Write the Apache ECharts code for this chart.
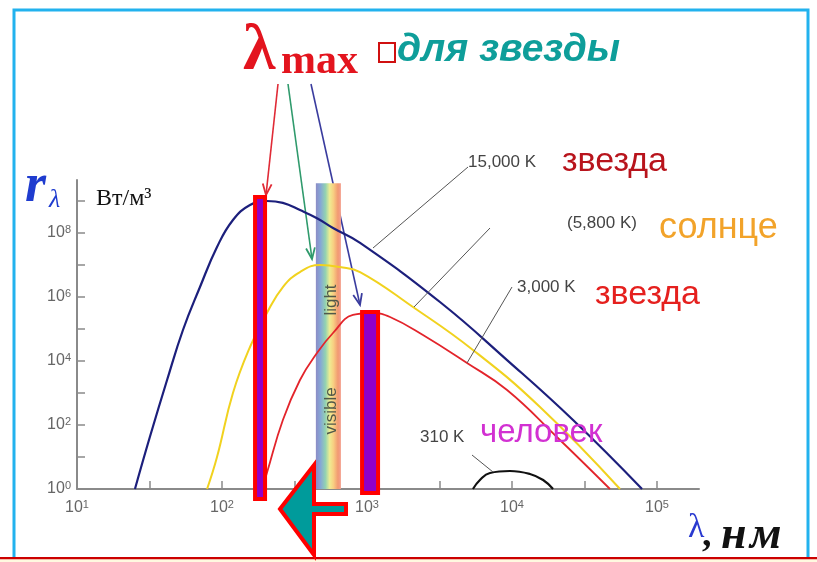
<!DOCTYPE html>
<html>
<head>
<meta charset="utf-8">
<script src="https://cdn.jsdelivr.net/npm/echarts@6/dist/echarts.min.js"></script>
<style>
  html, body { margin: 0; padding: 0; background: #fff; }
  #chart { width: 817px; height: 562px; }
</style>
</head>
<body>
<div id="chart"></div>
<script>
// Spectral emittance r(λ) of black bodies: [wavelength nm, r in W/m^3]
const star15000 = [[25.1, 1], [31.8, 42], [41.8, 2550], [53.8, 9.3e4], [70.5, 2.05e6], [92.4, 3.65e7],
  [119, 2.55e8], [156, 7.5e8], [204, 1.0e9], [263, 8.7e8], [345, 5.2e8], [452, 2.9e8], [583, 1.43e8],
  [896, 4.9e7], [3186, 6.98e5], [9247, 1.07e4], [26370, 143], [78880, 1]];
const sun5800 = [[78.9, 1], [92.4, 10], [119, 1000], [156, 2.74e4], [204, 3.16e5], [263, 2.05e6],
  [345, 6.03e6], [474, 1.0e7], [651, 8.66e6], [896, 6.03e6], [2075, 4.87e5],
  [5380, 2.21e4], [15600, 365], [55600, 1]];
const star3000 = [[189, 1], [204, 3.16], [263, 143], [345, 2550], [452, 1.78e4], [583, 7.5e4],
  [800, 2.74e5], [1099, 3.16e5], [1442, 2.37e5], [2433, 6.49e4], [4896, 8660], [9247, 1240],
  [20400, 42.2], [47400, 1]];
const human310 = [[5380, 1], [6010, 1.91], [7050, 3.16], [9680, 3.65], [13300, 2.94], [16400, 1.91], [19200, 1]];

// λmax markers: [wavelength nm, top value]
const peakMarks = [[183, 1.33e9], [1050, 3.4e5]];
// visible band: [from nm, to nm, top value]
const visibleBand = [[444, 661, 3.6e9]];

// axis ticks and labels
const xTicks = [10, 31.62, 100, 316.2, 1000, 3162, 10000, 31623, 100000];
const xLabels = [10, 100, 1000, 10000, 100000];
const yTicks = [1, 10, 100, 1e3, 1e4, 1e5, 1e6, 1e7, 1e8, 1e9];
const yLabels = [1, 100, 1e4, 1e6, 1e8];

const SANS = "'Liberation Sans', Arial, sans-serif";
const SERIF = "'Liberation Serif', 'Times New Roman', serif";

const markWidths = [10, 16];
const markDrop = [10, 4];

function powLabel(v) {
  const e = Math.round(Math.log10(v));
  return '{b|10}{s|' + e + '}';
}
const powRich = {
  b: { fontSize: 16, color: '#666', fontFamily: SANS, lineHeight: 18 },
  s: { fontSize: 11, color: '#666', fontFamily: SANS, lineHeight: 11, verticalAlign: 'top' }
};

function arrowLine(x1, y1, x2, y2, color) {
  const a = Math.atan2(y2 - y1, x2 - x1), L = 12, h = 0.38;
  return {
    type: 'group', z: 100, children: [
      { type: 'line', shape: { x1, y1, x2, y2 }, style: { stroke: color, lineWidth: 1.6 } },
      { type: 'polyline', shape: { points: [
        [x2 - L * Math.cos(a - h), y2 - L * Math.sin(a - h)], [x2, y2],
        [x2 - L * Math.cos(a + h), y2 - L * Math.sin(a + h)]] },
        style: { stroke: color, lineWidth: 1.8, fill: 'none' } }
    ]
  };
}
function label(x, y, text, font, fill, extra) {
  return Object.assign({ type: 'text', x, y, z: 100,
    style: { text, font, fill, textAlign: 'left', textVerticalAlign: 'middle' } }, extra || {});
}
function leader(x1, y1, x2, y2) {
  return { type: 'line', z: 100, shape: { x1, y1, x2, y2 }, style: { stroke: '#555', lineWidth: 1 } };
}

const chart = echarts.init(document.getElementById('chart'), null, { renderer: 'canvas' });

const curveBase = { type: 'line', z: 3, smooth: 0.45, showSymbol: false };

const option = {
  animation: false,
  backgroundColor: '#fff',
  grid: { left: 77, right: 118, top: 180, bottom: 73, containLabel: false },
  xAxis: {
    type: 'log', logBase: 10, min: 10, max: 194900,
    axisLine: { show: true, lineStyle: { color: '#8a8a8a', width: 2 } },
    axisTick: { show: true, inside: true, length: 8, customValues: xTicks,
      lineStyle: { color: '#8a8a8a', width: 1.5 } },
    axisLabel: { show: true, customValues: xLabels, margin: 10, formatter: powLabel, rich: powRich },
    splitLine: { show: false }
  },
  yAxis: {
    type: 'log', logBase: 10, min: 1, max: 4.53e9,
    axisLine: { show: true, lineStyle: { color: '#8a8a8a', width: 2 } },
    axisTick: { show: true, inside: true, length: 8, customValues: yTicks,
      lineStyle: { color: '#8a8a8a', width: 1.5 } },
    axisLabel: { show: true, customValues: yLabels, margin: 6, formatter: powLabel, rich: powRich },
    splitLine: { show: false }
  },
  series: [
    {
      type: 'custom', z: 1, silent: true, data: visibleBand,
      renderItem(params, api) {
        const p0 = api.coord([api.value(0), api.value(2)]);
        const p1 = api.coord([api.value(1), 1]);
        return {
          type: 'rect',
          shape: { x: p0[0], y: p0[1], width: p1[0] - p0[0], height: p1[1] - p0[1] },
          style: { fill: new echarts.graphic.LinearGradient(0, 0, 1, 0, [
            { offset: 0, color: '#8c8cc6' }, { offset: 0.18, color: '#86a6d6' },
            { offset: 0.38, color: '#92d2b2' }, { offset: 0.55, color: '#eeec92' },
            { offset: 0.7, color: '#f8cf82' }, { offset: 0.88, color: '#f29a72' },
            { offset: 1, color: '#f4a090' }]) }
        };
      }
    },
    Object.assign({ data: star15000, lineStyle: { color: '#1c1f7c', width: 2.2 } }, curveBase),
    Object.assign({ data: sun5800, lineStyle: { color: '#f1d21e', width: 2 } }, curveBase),
    Object.assign({ data: star3000, lineStyle: { color: '#e3242b', width: 1.8 } }, curveBase),
    Object.assign({ data: human310, lineStyle: { color: '#111', width: 2.2 } }, curveBase),
    {
      type: 'custom', z: 5, silent: true, clip: false, data: peakMarks,
      renderItem(params, api) {
        const i = params.dataIndex;
        const top = api.coord([api.value(0), api.value(1)]);
        const base = api.coord([api.value(0), 1]);
        const w = markWidths[i];
        return {
          type: 'rect',
          shape: { x: top[0] - w / 2, y: top[1], width: w, height: base[1] + markDrop[i] - top[1] },
          style: { fill: '#9000c8', stroke: '#ff0000', lineWidth: 4 }
        };
      }
    }
  ],
  graphic: [
    // slide frame and footer strip
    { type: 'rect', z: 90, shape: { x: 14, y: 10, width: 794, height: 570 },
      style: { fill: 'none', stroke: '#22b2ee', lineWidth: 3 } },
    { type: 'rect', z: 91, shape: { x: 0, y: 559, width: 817, height: 3 }, style: { fill: '#fff9e0' } },
    { type: 'rect', z: 91, shape: { x: 0, y: 557, width: 817, height: 2.2 }, style: { fill: '#cc0000' } },

    // λmax heading
    label(243, 52, 'λ', 'bold 66px ' + SERIF, '#e3141e'),
    label(281, 62, 'max', 'bold 42px ' + SERIF, '#e3141e'),
    { type: 'rect', z: 100, shape: { x: 379, y: 43, width: 16, height: 19 },
      style: { fill: '#fff', stroke: '#d01010', lineWidth: 2 } },
    label(397, 50, 'для звезды', 'italic bold 39px ' + SANS, '#0e9e9a'),

    arrowLine(278, 84, 266, 195, '#e02a36'),
    arrowLine(288, 84, 312, 259, '#2f9a6c'),
    arrowLine(311, 84, 360, 305, '#3a3c9e'),

    // axis titles
    label(25, 187, 'r', 'italic bold 54px ' + SERIF, '#1f3ccf'),
    label(49, 200, 'λ', 'italic 26px ' + SERIF, '#1f3ccf'),
    label(96, 199, 'Вт/м³', '24px ' + SERIF, '#111'),
    label(688, 528, 'λ', '34px ' + SERIF, '#2a3ad0'),
    label(702, 536, ',', 'bold 38px ' + SERIF, '#111'),
    label(721, 536, 'н', 'italic bold 46px ' + SERIF, '#111'),
    label(750, 536, 'м', 'italic bold 46px ' + SERIF, '#111'),

    // band captions
    { type: 'text', x: 331, y: 300, rotation: Math.PI / 2, z: 100,
      style: { text: 'light', font: '17px ' + SANS, fill: '#50584a', textAlign: 'center', textVerticalAlign: 'middle' } },
    { type: 'text', x: 331, y: 411, rotation: Math.PI / 2, z: 100,
      style: { text: 'visible', font: '17px ' + SANS, fill: '#50584a', textAlign: 'center', textVerticalAlign: 'middle' } },

    // curve labels
    leader(468, 167, 373, 248),
    leader(490, 228, 414, 307),
    leader(512, 287, 467, 363),
    leader(472, 455, 493, 472),
    label(468, 162, '15,000 K', '17px ' + SANS, '#444'),
    label(562, 162, 'звезда', '34px ' + SANS, '#b8141c'),
    label(567, 223, '(5,800 K)', '17px ' + SANS, '#444'),
    label(659, 228, 'солнце', '36px ' + SANS, '#f2a32a'),
    label(517, 287, '3,000 K', '17px ' + SANS, '#444'),
    label(595, 295, 'звезда', '34px ' + SANS, '#e5201e'),
    label(420, 437, '310 K', '17px ' + SANS, '#444'),
    label(480, 433, 'человек', '33px ' + SANS, '#d231d2'),

    // left-pointing arrow under the axis
    { type: 'polygon', z: 100,
      shape: { points: [[280, 509], [314, 465], [314, 504], [346, 504], [346, 514], [314, 514], [314, 555]] },
      style: { fill: '#009b9b', stroke: '#ff0000', lineWidth: 4, lineJoin: 'miter' } }
  ]
};

chart.setOption(option);
</script>
</body>
</html>
